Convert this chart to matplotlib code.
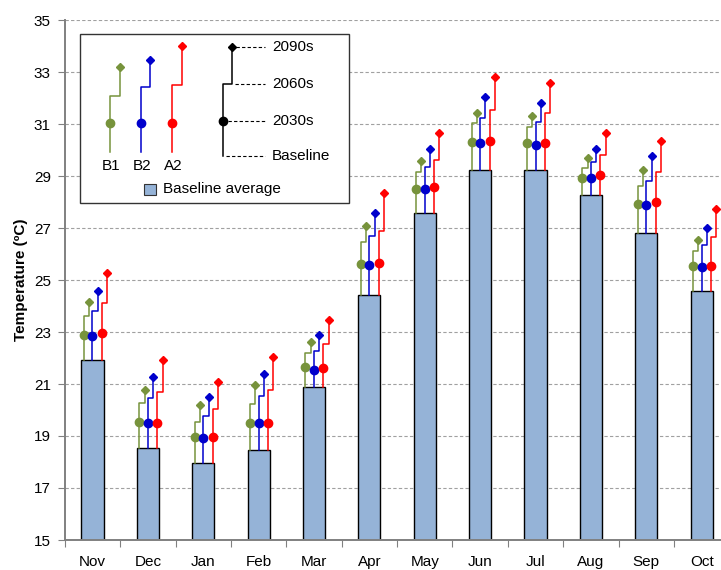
import numpy as np
import matplotlib
matplotlib.use("Agg")
import matplotlib.pyplot as plt
from matplotlib.patches import Rectangle

plt.rcParams['font.family'] = ['Liberation Sans', 'DejaVu Sans']

months = ['Nov', 'Dec', 'Jan', 'Feb', 'Mar', 'Apr', 'May', 'Jun', 'Jul', 'Aug', 'Sep', 'Oct']

# baseline average per month
baseline = [21.92, 18.53, 17.97, 18.45, 20.87, 24.42, 27.58, 29.23, 29.23, 28.26, 26.80, 24.58]

# scenario values: 2030s, 2060s, 2090s
b1_2030 = [22.88, 19.53, 18.95, 19.51, 21.65, 25.60, 28.50, 30.32, 30.27, 28.94, 27.91, 25.55]
b1_2060 = [23.63, 20.26, 19.55, 20.22, 22.20, 26.46, 29.14, 31.03, 30.90, 29.30, 28.62, 26.13]
b1_2090 = [24.14, 20.76, 20.19, 20.96, 22.62, 27.09, 29.56, 31.41, 31.32, 29.68, 29.23, 26.53]

b2_2030 = [22.86, 19.51, 18.91, 19.49, 21.55, 25.58, 28.50, 30.27, 30.19, 28.92, 27.88, 25.49]
b2_2060 = [23.82, 20.47, 19.77, 20.54, 22.28, 26.68, 29.33, 31.24, 31.09, 29.53, 28.81, 26.33]
b2_2090 = [24.59, 21.28, 20.51, 21.37, 22.87, 27.59, 30.03, 32.03, 31.80, 30.04, 29.77, 27.01]

a2_2030 = [22.95, 19.51, 18.97, 19.50, 21.60, 25.64, 28.59, 30.35, 30.28, 29.04, 28.00, 25.55]
a2_2060 = [24.10, 20.70, 20.03, 20.77, 22.53, 26.88, 29.60, 31.54, 31.43, 29.81, 29.15, 26.64]
a2_2090 = [25.28, 21.92, 21.07, 22.05, 23.46, 28.33, 30.64, 32.80, 32.59, 30.64, 30.36, 27.74]

scenarios = [
    ('B1', '#77933C', -0.155, b1_2030, b1_2060, b1_2090),
    ('B2', '#0000CC', 0.0, b2_2030, b2_2060, b2_2090),
    ('A2', '#FF0000', 0.17, a2_2030, a2_2060, a2_2090),
]
step = 0.095
fs = 11

fig = plt.figure(figsize=(7.21, 5.70), dpi=100)
ax = fig.add_axes([64.8 / 721, 30 / 570, 664.6 / 721, 520 / 570])

x = np.arange(len(months))
ax.bar(x, baseline, width=0.4, bottom=0, color='#95B3D7', edgecolor='black', linewidth=1.0, zorder=2)

for name, col, off, v30, v60, v90 in scenarios:
    for i in range(len(months)):
        xs = [x[i] + off, x[i] + off, x[i] + off + step, x[i] + off + step]
        ys = [baseline[i], v60[i], v60[i], v90[i]]
        ax.plot(xs, ys, color=col, lw=1.1, zorder=3)
    ax.plot(x + off, v30, 'o', color=col, ms=6, ls='none', zorder=4)
    ax.plot(x + off + step, v90, 'D', color=col, ms=4.5, ls='none', zorder=4)

ax.set_xlim(-0.5, 11.5)
ax.set_ylim(15, 35)
ax.set_yticks(np.arange(15, 36, 2))
ax.yaxis.grid(True, ls=(0, (3, 2)), color='#a0a0a0', lw=0.8)
ax.set_axisbelow(True)

ax.set_xticks(np.arange(-0.5, 12, 1))
ax.set_xticklabels([])
ax.set_xticks(x, minor=True)
ax.set_xticklabels(months, minor=True, fontsize=fs)
ax.tick_params(axis='x', which='major', length=5, direction='out', color='#808080')
ax.tick_params(axis='x', which='minor', length=0, pad=11)
ax.tick_params(axis='y', length=5, direction='out', color='#808080', labelsize=fs, pad=5)

for s in ['top', 'right']:
    ax.spines[s].set_visible(False)
for s in ['left', 'bottom']:
    ax.spines[s].set_color('#808080')
    ax.spines[s].set_linewidth(1.4)

ax.set_ylabel('Temperature (ºC)', fontsize=fs, fontweight='bold', labelpad=4)

# legend drawn in pixel coordinates
lg = fig.add_axes([0, 0, 1, 1], zorder=10)
lg.set_xlim(0, 721)
lg.set_ylim(570, 0)
lg.axis('off')
lg.add_patch(Rectangle((80, 34), 269, 169, facecolor='white', edgecolor='#333333', lw=1.0))

leg_items = [
    ('B1', '#77933C', 110, 95.7, 67.3),
    ('B2', '#0000CC', 140.7, 87.3, 60),
    ('A2', '#FF0000', 172.3, 85, 46),
]
for name, col, lx, sy, dy in leg_items:
    lg.plot([lx, lx, lx + 9.5, lx + 9.5], [152, sy, sy, dy], color=col, lw=1.1)
    lg.plot(lx, 123.3, 'o', color=col, ms=6)
    lg.plot(lx + 9.5, dy, 'D', color=col, ms=4.5)
    lg.text(lx + 1, 166, name, ha='center', va='center', fontsize=fs)

kx = 223.3
lg.plot([kx, kx, kx + 9, kx + 9], [156, 84.3, 84.3, 46.7], color='black', lw=1.1)
lg.plot(kx, 120.7, 'o', color='black', ms=6)
lg.plot(kx + 9, 46.7, 'D', color='black', ms=4)
for yy, lab, x0 in [(46.7, '2090s', 236), (84.3, '2060s', 235), (120.7, '2030s', 228), (156, 'Baseline', 226)]:
    lg.plot([x0, 265], [yy, yy], color='black', lw=0.8, ls=(0, (3, 2)))
    lg.text(272, yy, lab, ha='left', va='center', fontsize=fs)

lg.add_patch(Rectangle((144, 184), 12, 11, facecolor='#95B3D7', edgecolor='#333333', lw=0.8))
lg.text(163, 189.5, 'Baseline average', ha='left', va='center', fontsize=fs)

fig.savefig('out.png', dpi=100)
